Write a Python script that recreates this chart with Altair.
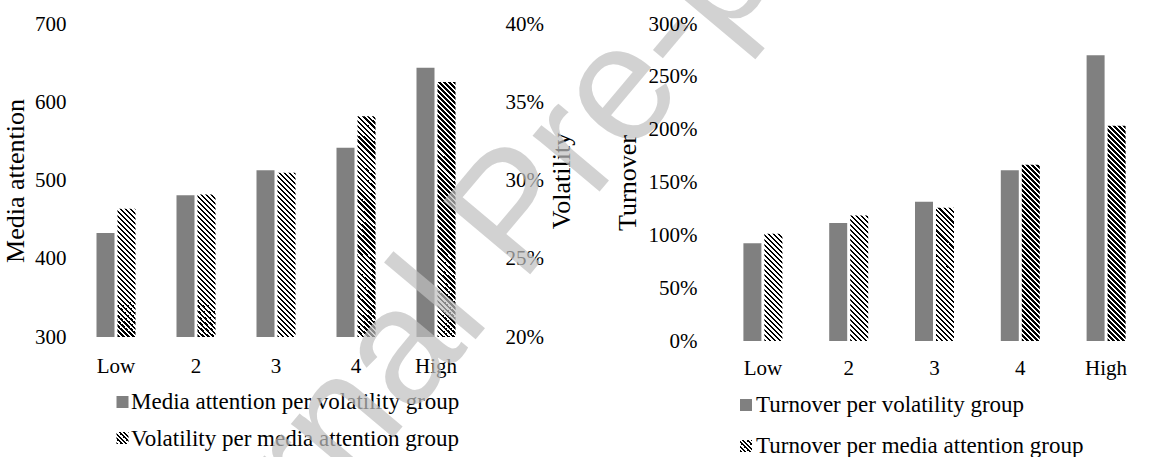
import altair as alt

# Quintile groups shown on both x axes
groups = ["Low", "2", "3", "4", "High"]

# Left panel: media attention per volatility group (left axis),
# volatility per media attention group (right axis)
media_attention_per_vol = [433, 481, 513, 542, 644]
volatility_per_media = [0.282, 0.291, 0.305, 0.341, 0.363]

# Right panel: turnover per volatility / media attention group
turnover_per_vol = [0.926, 1.116, 1.318, 1.615, 2.704]
turnover_per_media = [1.015, 1.188, 1.261, 1.669, 2.038]

legend_left = ["Media attention per volatility group", "Volatility per media attention group"]
legend_right = ["Turnover per volatility group", "Turnover per media attention group"]

media_ticks = [300, 400, 500, 600, 700]
vol_ticks = [0.20, 0.25, 0.30, 0.35, 0.40]
turn_ticks = [0, 0.5, 1.0, 1.5, 2.0, 2.5, 3.0]

media_dom = [300, 700]
vol_dom = [0.20, 0.40]
turn_dom = [0.0, 3.0]

GRAY = "#808080"
FONT = "Liberation Serif"
BAR_W = 18
GROUP_W = 39
STRIPE = 5

LW, LH = 400, 313
RW, RH = 429, 317

AXIS_STYLE = dict(
    labelFont=FONT, labelFontSize=21, labelColor="black",
    titleFont=FONT, titleFontSize=26, titleColor="black", titleFontWeight="normal",
    grid=False, ticks=False, domain=False,
)


def stripes(w, h, period=STRIPE):
    """Diagonal black/white hatch as a linear gradient in bounding-box units."""
    h = max(h, 1.0)
    k = h / w
    s = (1 + k) / (1 + k * k)
    n = (w + h) / period
    stops = []
    i = 0
    while i < n:
        a = i / n
        b = min((i + 0.5) / n, 1.0)
        c = min((i + 1) / n, 1.0)
        stops += [
            {"offset": a, "color": "black"},
            {"offset": b, "color": "black"},
            {"offset": b, "color": "white"},
            {"offset": c, "color": "white"},
        ]
        i += 1
    return {"gradient": "linear", "x1": 0, "y1": 1, "x2": s, "y2": 1 - s * k, "stops": stops}


def px(v, dom, height):
    return (v - dom[0]) / (dom[1] - dom[0]) * height


def x_enc(width, pad):
    step = width / len(groups)
    pi = 1 - GROUP_W / step
    return alt.X(
        "group:N",
        sort=groups,
        scale=alt.Scale(domain=groups, paddingInner=pi, paddingOuter=pi / 2),
        axis=alt.Axis(title=None, labelAngle=0, labelPadding=pad, **AXIS_STYLE),
    )


x_off = alt.XOffset(
    "series:N", scale=alt.Scale(domain=["a", "b"], paddingInner=3 / 21, paddingOuter=0)
)


def one_row():
    return alt.Data(values=[{"k": 0}])


def legend_text(label, x, y):
    return alt.Chart(alt.Data(values=[{"label": label}])).mark_text(
        align="left", baseline="middle", font=FONT, fontSize=23, color="black"
    ).encode(text="label:N", x=alt.value(x), y=alt.value(y))


# ---------- left panel ----------
left_gray_rows = [{"group": g, "series": "a", "value": v} for g, v in zip(groups, media_attention_per_vol)]
left_hatch_rows = [
    {"group": g, "series": "b", "value": v, "fill": stripes(BAR_W, px(v, vol_dom, LH))}
    for g, v in zip(groups, volatility_per_media)
]

left_gray = alt.Chart(alt.Data(values=left_gray_rows)).mark_bar(color=GRAY).encode(
    x=x_enc(LW, 18),
    xOffset=x_off,
    y=alt.Y(
        "value:Q",
        scale=alt.Scale(domain=media_dom, nice=False, zero=False),
        axis=alt.Axis(values=media_ticks, title="Media attention", orient="left",
                      labelPadding=10, titlePadding=6, **AXIS_STYLE),
    ),
    y2=alt.datum(media_dom[0]),
)

left_hatch = alt.Chart(alt.Data(values=left_hatch_rows)).mark_bar().encode(
    x=x_enc(LW, 18),
    xOffset=x_off,
    y=alt.Y(
        "value:Q",
        scale=alt.Scale(domain=vol_dom, nice=False, zero=False),
        axis=alt.Axis(values=vol_ticks, format=".0%", title="Volatility", orient="right",
                      labelPadding=29, titlePadding=5, titleAngle=270, titleBaseline="top",
                      **AXIS_STYLE),
    ),
    y2=alt.datum(vol_dom[0]),
    fill=alt.Fill("fill:N", scale=None),
)

left_leg = [
    alt.Chart(one_row()).mark_square(size=144, color=GRAY, opacity=1).encode(
        x=alt.value(46.5), y=alt.value(378)),
    alt.Chart(one_row()).mark_square(size=144, opacity=1).encode(
        x=alt.value(46.5), y=alt.value(414), fill=alt.value(stripes(12, 12, 4.5))),
    legend_text(legend_left[0], 55, 378),
    legend_text(legend_left[1], 55, 415),
]

watermark = alt.Chart(alt.Data(values=[{"t": "Journal Pre-proof"}])).mark_text(
    font="Liberation Sans", fontSize=165, angle=310, align="center", baseline="alphabetic",
    color="#c0c0c0", opacity=0.7,
).encode(text="t:N", x=alt.value(478), y=alt.value(222))

left = alt.layer(left_gray, left_hatch, *left_leg, watermark).resolve_scale(
    y="independent"
).properties(width=LW, height=LH)

# ---------- right panel ----------
right_gray_rows = [{"group": g, "series": "a", "value": v} for g, v in zip(groups, turnover_per_vol)]
right_hatch_rows = [
    {"group": g, "series": "b", "value": v, "fill": stripes(BAR_W, px(v, turn_dom, RH))}
    for g, v in zip(groups, turnover_per_media)
]

y_turn = alt.Y(
    "value:Q",
    scale=alt.Scale(domain=turn_dom, nice=False),
    axis=alt.Axis(values=turn_ticks, format=".0%", title="Turnover", orient="left",
                  labelPadding=23, titlePadding=8, **AXIS_STYLE),
)

right_gray = alt.Chart(alt.Data(values=right_gray_rows)).mark_bar(color=GRAY).encode(
    x=x_enc(RW, 16), xOffset=x_off, y=y_turn
)
right_hatch = alt.Chart(alt.Data(values=right_hatch_rows)).mark_bar().encode(
    x=x_enc(RW, 16), xOffset=x_off, y=y_turn, fill=alt.Fill("fill:N", scale=None)
)

right_leg = [
    alt.Chart(one_row()).mark_square(size=144, color=GRAY, opacity=1).encode(
        x=alt.value(26), y=alt.value(381)),
    alt.Chart(one_row()).mark_square(size=144, opacity=1).encode(
        x=alt.value(26), y=alt.value(422), fill=alt.value(stripes(12, 12, 4.5))),
    legend_text(legend_right[0], 36, 381),
    legend_text(legend_right[1], 36, 422),
]

right = alt.layer(right_gray, right_hatch, *right_leg).properties(width=RW, height=RH)

chart = alt.hconcat(left, right, spacing=720 - 76 - LW, bounds="flush").properties(
    padding={"left": 76, "top": 24, "right": 1149 - 76, "bottom": 457 - 24},
    autosize=alt.AutoSizeParams(type="none"),
    background="white",
).configure_view(stroke=None).configure_axis(**AXIS_STYLE)

chart.save("out.html", embed_options={"renderer": "svg", "actions": False})
